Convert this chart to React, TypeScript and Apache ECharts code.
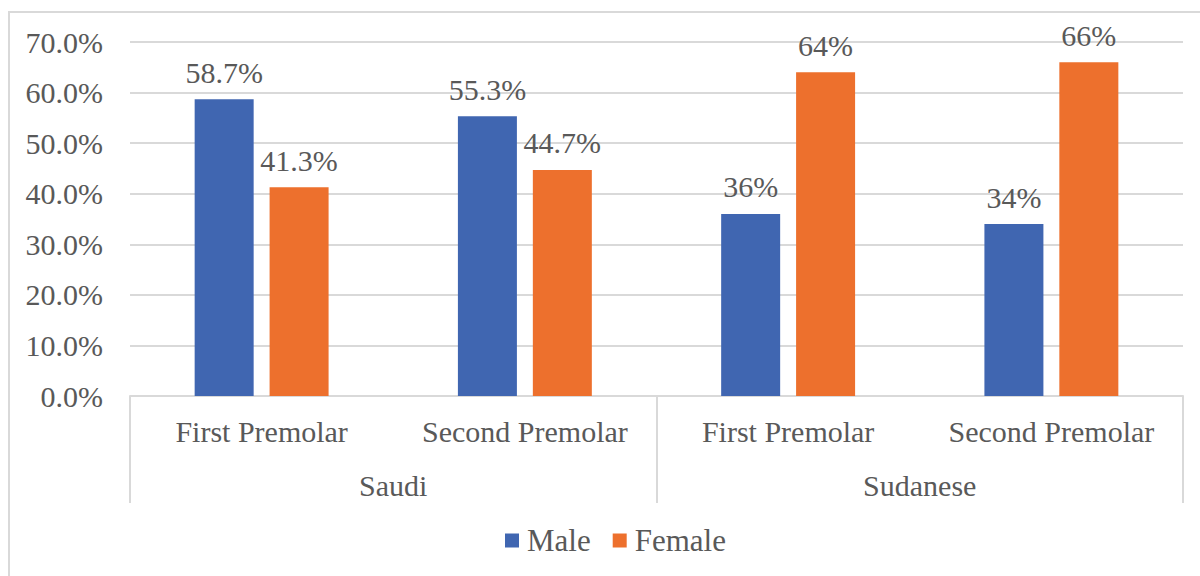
import React, { useEffect, useRef } from "react";
import * as echarts from "echarts";

const categories = ["First Premolar", "Second Premolar", "First Premolar", "Second Premolar"];
const groups = ["Saudi", "Sudanese"];
const maleValues = [58.7, 55.3, 36, 34];
const femaleValues = [41.3, 44.7, 64, 66];
const maleLabels = ["58.7%", "55.3%", "36%", "34%"];
const femaleLabels = ["41.3%", "44.7%", "64%", "66%"];

const FONT = "Liberation Serif";
const TEXT = "#595959";
const LINE = "#d9d9d9";
const FS = 30;

export default function App() {
  const ref = useRef<HTMLDivElement>(null);
  useEffect(() => {
    if (!ref.current) return;
    const chart = echarts.init(ref.current, undefined, { renderer: "svg" });
    chart.setOption({
      animation: false,
      backgroundColor: "#ffffff",
      textStyle: { fontFamily: FONT },
      graphic: [
        {
          type: "rect",
          shape: { x: 9, y: 12, width: 1200, height: 600 },
          style: { fill: "none", stroke: LINE, lineWidth: 2 },
          silent: true,
        },
      ],
      grid: { left: 130, right: 17, top: 42, bottom: 180, containLabel: false },
      legend: {
        bottom: 15,
        left: 500,
        itemWidth: 14,
        itemHeight: 14,
        itemGap: 22,
        icon: "rect",
        textStyle: { fontFamily: FONT, fontSize: 31, color: TEXT, padding: [0, 0, 0, 3] },
        data: ["Male", "Female"],
      },
      xAxis: [
        {
          type: "category",
          data: categories,
          axisLine: { lineStyle: { color: LINE, width: 2 } },
          axisTick: { show: false },
          axisLabel: { interval: 0, fontFamily: FONT, fontSize: FS, color: TEXT, margin: 20 },
        },
        {
          type: "category",
          data: groups,
          position: "bottom",
          axisLine: { show: false },
          axisTick: { show: true, length: 107, lineStyle: { color: LINE, width: 2 } },
          axisLabel: { interval: 0, fontFamily: FONT, fontSize: FS, color: TEXT, margin: 74 },
        },
      ],
      yAxis: {
        type: "value",
        min: 0,
        max: 70,
        interval: 10,
        axisLine: { show: false },
        axisTick: { show: false },
        splitLine: { lineStyle: { color: LINE, width: 2 } },
        axisLabel: {
          fontFamily: FONT,
          fontSize: FS,
          color: TEXT,
          margin: 27,
          formatter: (v: number) => v.toFixed(1) + "%",
        },
      },
      series: [
        {
          name: "Male",
          type: "bar",
          xAxisIndex: 0,
          data: maleValues,
          barWidth: 59,
          barGap: "27%",
          itemStyle: { color: "#4066B1" },
          label: {
            show: true,
            position: "top",
            distance: 12,
            fontFamily: FONT,
            fontSize: FS,
            color: TEXT,
            formatter: (p: any) => maleLabels[p.dataIndex],
          },
        },
        {
          name: "Female",
          type: "bar",
          xAxisIndex: 0,
          data: femaleValues,
          barWidth: 59,
          barGap: "27%",
          itemStyle: { color: "#ED702D" },
          label: {
            show: true,
            position: "top",
            distance: 12,
            fontFamily: FONT,
            fontSize: FS,
            color: TEXT,
            formatter: (p: any) => femaleLabels[p.dataIndex],
          },
        },
      ],
    });
    return () => chart.dispose();
  }, []);
  return (
    <div
      ref={ref}
      style={{ position: "fixed", left: 0, top: 0, width: 1200, height: 576 }}
    />
  );
}
